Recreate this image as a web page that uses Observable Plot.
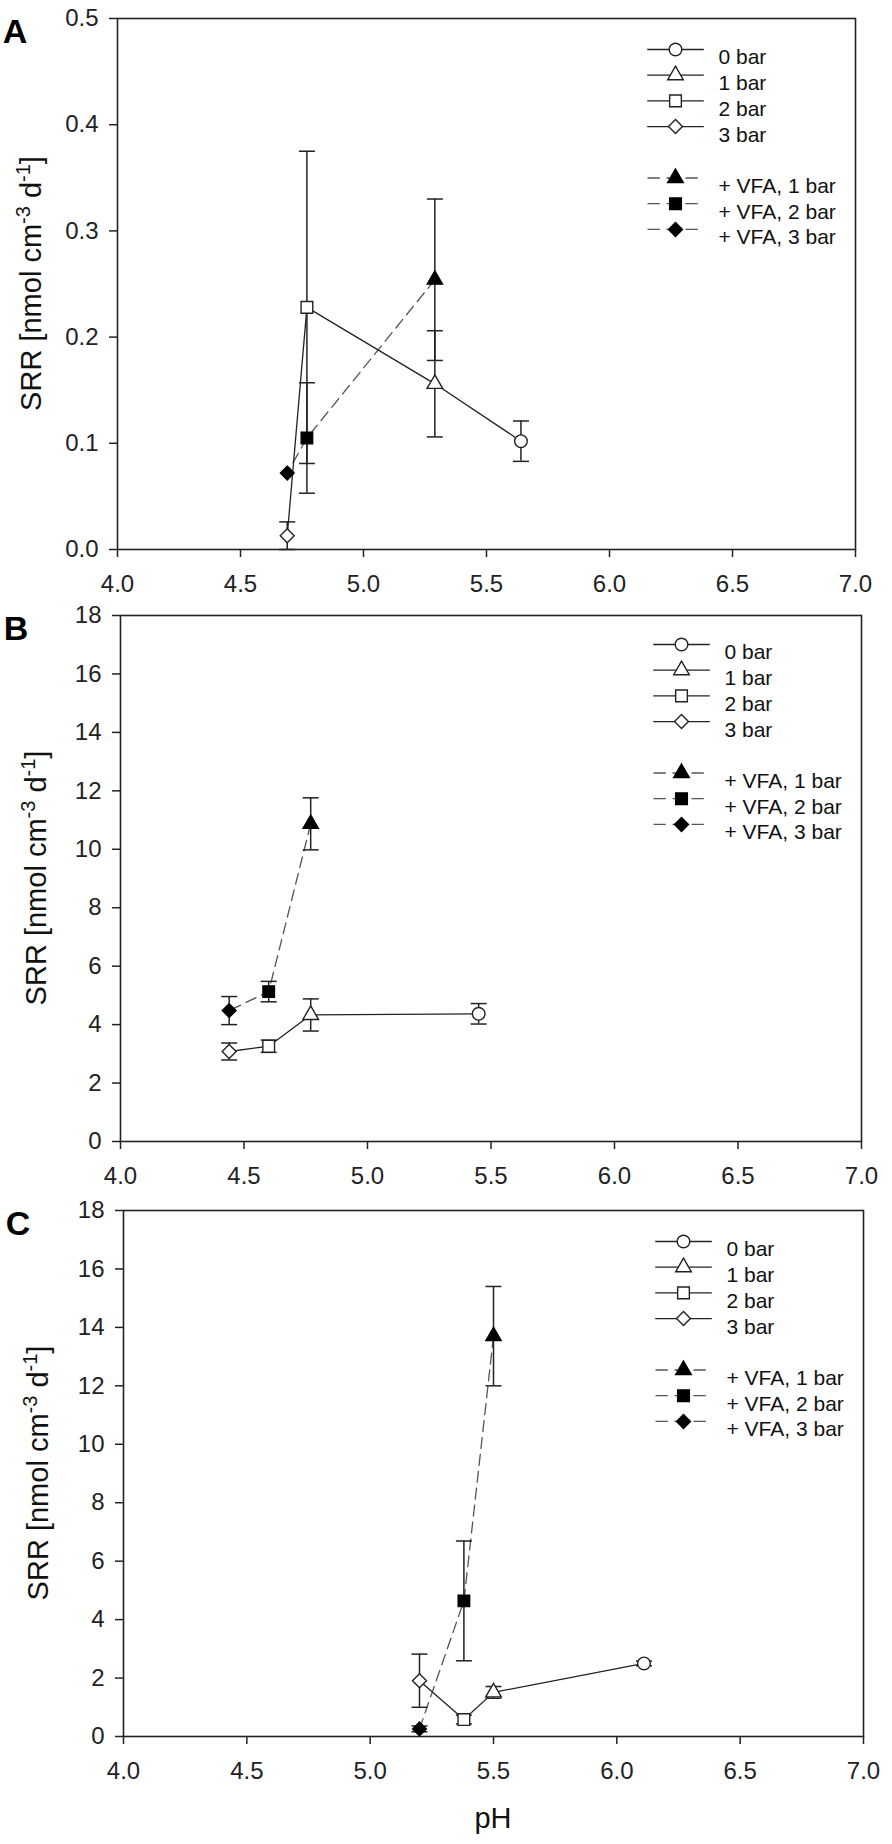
<!DOCTYPE html>
<html>
<head>
<meta charset="utf-8">
<script src="https://cdn.jsdelivr.net/npm/d3@7"></script>
<script src="https://cdn.jsdelivr.net/npm/@observablehq/plot@0.6"></script>
<style>
  body { margin: 0; background: #fff; }
  #chart svg { display: block; }
</style>
</head>
<body>
<div id="chart"></div>
<script>
// ---------- data ----------
const seriesControl = ["0 bar", "1 bar", "2 bar", "3 bar"];
const seriesVFA = ["+ VFA, 1 bar", "+ VFA, 2 bar", "+ VFA, 3 bar"];
const xTicks = [4.0, 4.5, 5.0, 5.5, 6.0, 6.5, 7.0];
const yTicksA = [0, 0.1, 0.2, 0.3, 0.4, 0.5];
const yTicksBC = [0, 2, 4, 6, 8, 10, 12, 14, 16, 18];
const panelLetters = ["A", "B", "C"];
const xLabel = "pH";

// Panel A (order: 0,1,2,3 bar / VFA 1,2,3 bar)
const phA_ctrl = [5.64, 5.29, 4.77, 4.69];
const srrA_ctrl = [0.102, 0.156, 0.228, 0.013];
const errA_ctrl = [0.019, 0.050, 0.147, 0.013];
const phA_vfa = [5.29, 4.77, 4.69];
const srrA_vfa = [0.254, 0.105, 0.072];
const errA_vfa = [0.076, 0.052, null];

// Panel B
const phB_ctrl = [5.45, 4.77, 4.60, 4.44];
const srrB_ctrl = [4.37, 4.33, 3.26, 3.08];
const errB_ctrl = [0.35, 0.55, 0.21, 0.29];
const phB_vfa = [4.77, 4.60, 4.44];
const srrB_vfa = [10.87, 5.13, 4.48];
const errB_vfa = [0.89, 0.35, 0.48];

// Panel C
const phC_ctrl = [6.11, 5.50, 5.38, 5.20];
const srrC_ctrl = [2.50, 1.51, 0.58, 1.91];
const errC_ctrl = [0.08, 0.20, 0.15, 0.91];
const phC_vfa = [5.50, 5.38, 5.20];
const srrC_vfa = [13.7, 4.64, 0.26];
const errC_vfa = [1.70, 2.05, 0.10];

// ---------- style ----------
const INK = "#222";
const DASH = "#555";
const FONT = "'Liberation Sans', Arial, Helvetica, sans-serif";
const shapeCtrl = ["circle", "triangle", "square", "diamond2"];
const shapeVfa = ["triangle", "square", "diamond2"];
const shapeR = {circle: 6.3, triangle: 5.8, square: 6.6, diamond2: 6.3};

const hline = {draw(ctx, size) { const w = Math.sqrt(size / Math.PI); ctx.moveTo(-w, 0); ctx.lineTo(w, 0); }};

function panel(p) {
  const ctrl = p.ctrlPh.map((ph, i) => ({series: seriesControl[i], ph, srr: p.ctrlSrr[i], err: p.ctrlErr[i], shape: shapeCtrl[i]}));
  const vfa = p.vfaPh.map((ph, i) => ({series: seriesVFA[i], ph, srr: p.vfaSrr[i], err: p.vfaErr[i], shape: shapeVfa[i]}));
  const withErr = [...ctrl, ...vfa].filter(d => d.err != null);

  const marks = [
    Plot.axisX({ticks: xTicks, tickFormat: d3.format(".1f"), tickSize: 8, tickPadding: 17, label: null, fontSize: 24, strokeWidth: 1.5}),
    Plot.axisY({ticks: p.yTicks, tickFormat: p.yFmt, tickSize: 8, tickPadding: 11, label: null, fontSize: 24, strokeWidth: 1.5}),
    Plot.frame({stroke: INK, strokeWidth: 1.6}),
    Plot.line(vfa, {x: "ph", y: "srr", stroke: DASH, strokeWidth: 1.3, strokeDasharray: "11,6"}),
    Plot.line(ctrl, {x: "ph", y: "srr", stroke: INK, strokeWidth: 1.3}),
    Plot.ruleX(withErr, {x: "ph", y1: d => d.srr - d.err, y2: d => d.srr + d.err, stroke: INK, strokeWidth: 1.5}),
    Plot.dot(withErr, {x: "ph", y: d => d.srr - d.err, symbol: hline, r: 8, stroke: INK, strokeWidth: 1.5, fill: "none"}),
    Plot.dot(withErr, {x: "ph", y: d => d.srr + d.err, symbol: hline, r: 8, stroke: INK, strokeWidth: 1.5, fill: "none"})
  ];
  for (const s of Object.keys(shapeR)) {
    marks.push(Plot.dot(ctrl.filter(d => d.shape === s), {x: "ph", y: "srr", symbol: s, r: shapeR[s], fill: "white", stroke: INK, strokeWidth: 1.4}));
    marks.push(Plot.dot(vfa.filter(d => d.shape === s), {x: "ph", y: "srr", symbol: s, r: shapeR[s], fill: "#000", stroke: "#000", strokeWidth: 1.2}));
  }
  // legend inside the frame, anchored to top-right
  const legendRows = [
    ...seriesControl.map((name, i) => ({name, shape: shapeCtrl[i], filled: false, row: i})),
    ...seriesVFA.map((name, i) => ({name, shape: shapeVfa[i], filled: true, row: i + 5}))
  ];
  for (const L of legendRows) {
    const dy = p.legendTop + 25.7 * L.row;
    marks.push(Plot.dot([L], {frameAnchor: "top-right", dx: L.filled ? -182 : -180, dy, symbol: hline, r: L.filled ? 26 : 28.3,
      stroke: L.filled ? DASH : INK, strokeWidth: 1.3, fill: "none", strokeDasharray: L.filled ? "12.3,6.7" : null}));
    marks.push(Plot.dot([L], {frameAnchor: "top-right", dx: -180, dy, symbol: L.shape, r: shapeR[L.shape],
      fill: L.filled ? "#000" : "white", stroke: L.filled ? "#000" : INK, strokeWidth: 1.4}));
    marks.push(Plot.text([L], {frameAnchor: "top-right", dx: -137, dy, text: "name", textAnchor: "start", fontSize: 21, fill: "#111"}));
  }

  const svg = Plot.plot({
    width: 892,
    height: p.height,
    marginTop: p.mt, marginBottom: p.mb, marginLeft: p.ml, marginRight: p.mr,
    style: {fontFamily: FONT, fontSize: "24px", color: INK, background: "white", overflow: "visible"},
    x: {domain: [4, 7]},
    y: {domain: p.yDomain},
    marks
  });

  const g = d3.select(svg);
  // panel letter
  g.append("text").attr("x", p.letterX).attr("y", p.mt + 24.5)
    .attr("font-family", FONT).attr("font-weight", "bold").attr("font-size", 34).attr("fill", "#000")
    .text(p.letter);
  // y label with superscripts
  const cy = (p.mt + p.height - p.mb) / 2;
  const t = g.append("text").attr("transform", `translate(${p.labelX},${cy}) rotate(-90)`)
    .attr("text-anchor", "middle").attr("font-family", FONT).attr("font-size", 29).attr("fill", "#111");
  t.append("tspan").text("SRR [nmol cm");
  t.append("tspan").attr("dy", -11).attr("font-size", 20).text("-3");
  t.append("tspan").attr("dy", 11).text(" d");
  t.append("tspan").attr("dy", -11).attr("font-size", 20).text("-1");
  t.append("tspan").attr("dy", 11).text("]");
  if (p.xlabel) {
    g.append("text").attr("x", (p.ml + 892 - p.mr) / 2).attr("y", p.height - p.mb + 92)
      .attr("text-anchor", "middle").attr("font-family", FONT).attr("font-size", 29).attr("fill", "#111")
      .text(p.xlabel);
  }
  return svg;
}

const root = document.getElementById("chart");
root.append(panel({
  letter: panelLetters[0], letterX: 15, labelX: 41,
  ctrlPh: phA_ctrl, ctrlSrr: srrA_ctrl, ctrlErr: errA_ctrl,
  vfaPh: phA_vfa, vfaSrr: srrA_vfa, vfaErr: errA_vfa,
  yDomain: [0, 0.5], yTicks: yTicksA, yFmt: d3.format(".1f"),
  height: 597, mt: 18, mb: 48, ml: 117, mr: 37, legendTop: 31
}));
root.append(panel({
  letter: panelLetters[1], letterX: 16, labelX: 46,
  ctrlPh: phB_ctrl, ctrlSrr: srrB_ctrl, ctrlErr: errB_ctrl,
  vfaPh: phB_vfa, vfaSrr: srrB_vfa, vfaErr: errB_vfa,
  yDomain: [0, 18], yTicks: yTicksBC, yFmt: d3.format("d"),
  height: 595, mt: 18, mb: 51, ml: 120, mr: 31, legendTop: 29
}));
root.append(panel({
  letter: panelLetters[2], letterX: 18, labelX: 48,
  ctrlPh: phC_ctrl, ctrlSrr: srrC_ctrl, ctrlErr: errC_ctrl,
  vfaPh: phC_vfa, vfaSrr: srrC_vfa, vfaErr: errC_vfa,
  yDomain: [0, 18], yTicks: yTicksBC, yFmt: d3.format("d"),
  height: 652, mt: 18, mb: 108, ml: 123, mr: 29, legendTop: 31, xlabel: xLabel
}));
</script>
</body>
</html>
